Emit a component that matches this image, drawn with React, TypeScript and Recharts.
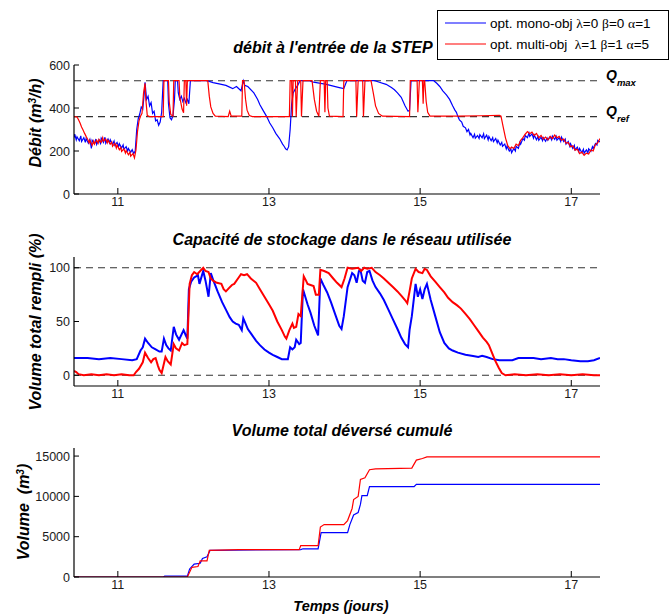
import { LineChart, Line, XAxis, YAxis, ReferenceLine } from 'recharts'

// x ticks (jours) and y ticks for each panel
const days = [11, 13, 15, 17]
const debitTicks = [0, 200, 400, 600]
const stockTicks = [0, 50, 100]
const cumulTicks = [0, 5000, 10000, 15000]
const qMax = 527
const qRef = 360

// débit à l'entrée de la STEP (m3/h) — [temps, valeur]
const debitMono: [number, number][] = [
  [10.42, 262], [10.43, 278], [10.45, 252], [10.46, 266], [10.49, 248], [10.51, 270], [10.52, 244], [10.55, 262],
  [10.57, 240], [10.58, 258], [10.61, 236], [10.63, 254], [10.65, 212], [10.66, 250], [10.69, 234], [10.71, 256],
  [10.72, 230], [10.75, 252], [10.77, 236], [10.78, 260], [10.81, 240], [10.83, 264], [10.84, 236], [10.87, 256],
  [10.89, 238], [10.9, 252], [10.93, 230], [10.95, 246], [10.96, 226], [10.99, 240], [11.01, 220], [11.02, 234],
  [11.05, 214], [11.07, 228], [11.08, 208], [11.11, 220], [11.13, 200], [11.14, 212], [11.17, 194], [11.19, 206],
  [11.21, 188], [11.23, 200], [11.25, 300], [11.27, 350], [11.29, 372], [11.31, 405], [11.33, 395], [11.35, 470],
  [11.36, 520], [11.37, 480], [11.38, 440], [11.4, 455], [11.42, 410], [11.44, 425], [11.46, 375], [11.48, 385],
  [11.5, 340], [11.52, 345], [11.54, 320], [11.56, 335], [11.58, 380], [11.6, 527], [11.66, 527], [11.67, 420],
  [11.69, 355], [11.71, 345], [11.73, 365], [11.75, 440], [11.76, 527], [11.79, 527], [11.8, 470], [11.82, 440],
  [11.84, 455], [11.86, 430], [11.88, 445], [11.9, 425], [11.92, 440], [11.94, 420], [11.96, 527], [12.18, 527],
  [12.26, 518], [12.34, 512], [12.43, 505], [12.52, 490], [12.57, 500], [12.63, 480], [12.66, 527], [12.68, 505],
  [12.72, 500], [12.8, 470], [12.85, 440], [12.88, 415], [12.92, 390], [12.97, 360], [13.01, 330], [13.05, 308],
  [13.09, 282], [13.14, 258], [13.18, 232], [13.2, 222], [13.22, 210], [13.24, 205], [13.26, 220], [13.28, 300],
  [13.3, 420], [13.32, 470], [13.35, 490], [13.38, 505], [13.41, 527], [13.53, 527], [13.59, 520], [13.76, 510],
  [13.93, 495], [13.99, 490], [14.03, 527], [14.4, 527], [14.46, 520], [14.55, 510], [14.62, 495], [14.66, 485],
  [14.7, 470], [14.75, 450], [14.8, 410], [14.84, 385], [14.86, 390], [14.88, 527], [15.18, 527], [15.22, 515],
  [15.26, 500], [15.3, 480], [15.35, 460], [15.39, 440], [15.43, 410], [15.46, 390], [15.48, 380], [15.5, 360],
  [15.52, 345], [15.55, 335], [15.57, 315], [15.6, 308], [15.62, 290], [15.64, 300], [15.66, 275], [15.67, 282],
  [15.7, 262], [15.72, 278], [15.73, 260], [15.76, 272], [15.78, 258], [15.79, 276], [15.82, 262], [15.84, 280],
  [15.85, 258], [15.88, 274], [15.9, 252], [15.91, 268], [15.94, 248], [15.96, 262], [15.97, 244], [16.0, 258],
  [16.02, 238], [16.03, 250], [16.06, 228], [16.08, 240], [16.09, 222], [16.12, 232], [16.14, 210], [16.15, 222],
  [16.18, 200], [16.2, 210], [16.21, 192], [16.24, 212], [16.26, 200], [16.27, 222], [16.3, 212], [16.32, 240],
  [16.33, 232], [16.36, 258], [16.38, 250], [16.39, 272], [16.42, 262], [16.44, 284], [16.45, 268], [16.48, 280],
  [16.5, 260], [16.51, 274], [16.54, 252], [16.56, 268], [16.57, 250], [16.6, 264], [16.62, 248], [16.63, 262],
  [16.66, 245], [16.68, 260], [16.69, 250], [16.72, 266], [16.74, 252], [16.75, 270], [16.78, 254], [16.8, 268],
  [16.81, 250], [16.84, 262], [16.86, 245], [16.87, 265], [16.9, 244], [16.92, 255], [16.93, 232], [16.96, 244],
  [16.98, 222], [16.99, 234], [17.02, 212], [17.04, 226], [17.05, 205], [17.08, 218], [17.1, 198], [17.11, 212],
  [17.14, 192], [17.16, 208], [17.17, 190], [17.2, 205], [17.22, 192], [17.23, 210], [17.26, 198], [17.28, 220],
  [17.29, 212], [17.32, 235], [17.34, 228], [17.35, 250], [17.38, 242],
]

const debitMulti: [number, number][] = [
  [10.42, 360], [10.46, 358], [10.48, 345], [10.5, 330], [10.52, 312], [10.54, 298], [10.56, 282], [10.58, 268],
  [10.6, 255], [10.62, 238], [10.63, 250], [10.66, 226], [10.68, 246], [10.69, 232], [10.72, 250], [10.74, 236],
  [10.75, 254], [10.78, 240], [10.8, 262], [10.81, 246], [10.84, 256], [10.86, 238], [10.87, 250], [10.9, 232],
  [10.92, 242], [10.93, 222], [10.96, 236], [10.98, 214], [10.99, 228], [11.02, 206], [11.04, 216], [11.05, 198],
  [11.08, 210], [11.1, 190], [11.11, 202], [11.14, 182], [11.16, 194], [11.17, 176], [11.2, 188], [11.22, 168],
  [11.24, 205], [11.26, 290], [11.28, 340], [11.3, 362], [11.32, 375], [11.34, 470], [11.36, 515], [11.37, 440],
  [11.39, 365], [11.42, 360], [11.6, 360], [11.61, 527], [11.67, 527], [11.68, 430], [11.7, 370], [11.73, 362],
  [11.74, 527], [11.81, 527], [11.82, 450], [11.85, 395], [11.87, 378], [11.88, 527], [11.9, 527], [11.91, 410],
  [11.92, 527], [12.19, 527], [12.21, 455], [12.23, 405], [12.26, 375], [12.29, 362], [12.46, 360], [12.48, 385],
  [12.5, 362], [12.64, 362], [12.65, 527], [12.67, 527], [12.69, 440], [12.71, 390], [12.74, 365], [12.78, 360],
  [13.27, 360], [13.28, 527], [13.3, 527], [13.31, 360], [13.32, 527], [13.35, 527], [13.36, 360], [13.38, 527],
  [13.42, 527], [13.43, 360], [13.45, 527], [13.57, 527], [13.6, 440], [13.63, 385], [13.66, 362], [13.68, 527],
  [13.73, 527], [13.74, 380], [13.75, 527], [13.77, 527], [13.78, 400], [13.8, 362], [13.98, 360], [13.99, 527],
  [14.15, 527], [14.16, 360], [14.18, 527], [14.24, 527], [14.25, 360], [14.27, 527], [14.35, 527], [14.38, 470],
  [14.41, 410], [14.45, 375], [14.5, 362], [14.86, 360], [14.87, 527], [14.96, 527], [14.97, 380], [14.99, 527],
  [15.03, 527], [15.04, 420], [15.05, 527], [15.06, 527], [15.08, 430], [15.1, 380], [15.13, 362], [15.5, 362],
  [15.8, 364], [16.05, 366], [16.07, 362], [16.1, 310], [16.13, 260], [16.16, 225], [16.19, 210], [16.21, 218],
  [16.24, 212], [16.27, 232], [16.3, 225], [16.33, 250], [16.36, 262], [16.39, 278], [16.42, 290], [16.45, 280],
  [16.48, 288], [16.51, 272], [16.54, 282], [16.57, 262], [16.6, 272], [16.63, 255], [16.66, 265], [16.69, 252],
  [16.72, 268], [16.75, 258], [16.78, 274], [16.81, 262], [16.84, 268], [16.87, 250], [16.9, 256], [16.93, 236],
  [16.96, 240], [16.99, 220], [17.02, 224], [17.05, 204], [17.08, 208], [17.11, 188], [17.14, 195], [17.17, 180],
  [17.2, 190], [17.23, 186], [17.26, 205], [17.29, 200], [17.32, 230], [17.35, 238], [17.38, 258],
]

// capacité de stockage utilisée (%)
const stockMono: [number, number][] = [
  [10.42, 16], [10.6, 16], [10.75, 15], [10.9, 16], [11.05, 15], [11.19, 14], [11.25, 15], [11.3, 23],
  [11.33, 26], [11.36, 34], [11.4, 30], [11.45, 26], [11.5, 24], [11.55, 22], [11.58, 22], [11.61, 34],
  [11.64, 28], [11.67, 25], [11.7, 23], [11.74, 45], [11.77, 38], [11.81, 33], [11.87, 42], [11.9, 37],
  [11.92, 34], [11.94, 80], [11.97, 87], [12.01, 91], [12.06, 93], [12.08, 85], [12.13, 97], [12.16, 88],
  [12.2, 73], [12.23, 95], [12.27, 87], [12.32, 78], [12.38, 68], [12.43, 61], [12.48, 54], [12.52, 50],
  [12.56, 48], [12.6, 47], [12.64, 42], [12.66, 53], [12.69, 48], [12.72, 43], [12.77, 38], [12.83, 32],
  [12.88, 28], [12.94, 24], [13.0, 21], [13.05, 19], [13.11, 17], [13.17, 15], [13.25, 15], [13.28, 26],
  [13.31, 24], [13.34, 26], [13.36, 33], [13.4, 29], [13.42, 30], [13.45, 80], [13.48, 73], [13.51, 66],
  [13.55, 58], [13.6, 46], [13.65, 37], [13.68, 90], [13.72, 84], [13.77, 77], [13.82, 68], [13.88, 56],
  [13.93, 46], [13.96, 43], [13.99, 55], [14.04, 82], [14.1, 95], [14.13, 93], [14.16, 86], [14.19, 97],
  [14.21, 98], [14.24, 88], [14.27, 86], [14.3, 96], [14.33, 97], [14.37, 88], [14.41, 82], [14.47, 76],
  [14.52, 70], [14.58, 61], [14.64, 52], [14.7, 43], [14.75, 35], [14.8, 29], [14.84, 26], [14.86, 42],
  [14.89, 55], [14.94, 85], [14.97, 73], [15.0, 80], [15.03, 71], [15.06, 80], [15.09, 85], [15.14, 70],
  [15.2, 55], [15.26, 40], [15.32, 30], [15.38, 25], [15.43, 23], [15.5, 21], [15.6, 19], [15.7, 18],
  [15.77, 17], [15.82, 18], [15.88, 17], [15.96, 15], [16.05, 14], [16.15, 14], [16.22, 14], [16.3, 16],
  [16.39, 16], [16.5, 16], [16.6, 15], [16.73, 16], [16.82, 15], [16.9, 15], [17.0, 14], [17.12, 13],
  [17.22, 13], [17.3, 14], [17.38, 16],
]

const stockMulti: [number, number][] = [
  [10.42, 4], [10.45, 3], [10.48, 1], [10.55, 0], [10.65, 1], [10.75, 0], [10.85, 1], [10.95, 0],
  [11.05, 1], [11.15, 0], [11.21, 0], [11.24, 3], [11.28, 6], [11.33, 12], [11.36, 21], [11.4, 16],
  [11.44, 12], [11.47, 15], [11.5, 16], [11.53, 9], [11.55, 5], [11.58, 2], [11.6, 8], [11.63, 17],
  [11.66, 13], [11.7, 10], [11.74, 29], [11.77, 25], [11.81, 23], [11.85, 30], [11.88, 28], [11.92, 29],
  [11.95, 85], [11.98, 93], [12.01, 96], [12.05, 94], [12.09, 97], [12.13, 100], [12.16, 97], [12.2, 96],
  [12.23, 90], [12.26, 88], [12.31, 86], [12.37, 85], [12.4, 80], [12.43, 78], [12.47, 81], [12.51, 84],
  [12.54, 85], [12.59, 90], [12.63, 94], [12.67, 93], [12.71, 94], [12.76, 90], [12.83, 86], [12.88, 80],
  [12.94, 73], [13.0, 66], [13.05, 60], [13.11, 50], [13.17, 42], [13.21, 36], [13.23, 34], [13.27, 42],
  [13.31, 48], [13.33, 44], [13.36, 45], [13.39, 57], [13.42, 55], [13.46, 92], [13.49, 88], [13.51, 85],
  [13.55, 84], [13.59, 83], [13.62, 75], [13.66, 75], [13.68, 98], [13.73, 97], [13.79, 95], [13.85, 90],
  [13.9, 86], [13.96, 82], [14.0, 90], [14.04, 100], [14.1, 99], [14.18, 100], [14.22, 97], [14.26, 100],
  [14.3, 99], [14.36, 100], [14.41, 96], [14.47, 93], [14.52, 90], [14.58, 86], [14.64, 82], [14.7, 78],
  [14.75, 74], [14.8, 70], [14.83, 67], [14.86, 78], [14.89, 90], [14.94, 99], [14.98, 96], [15.03, 95],
  [15.06, 99], [15.09, 98], [15.14, 92], [15.2, 87], [15.26, 82], [15.32, 77], [15.37, 72], [15.43, 68],
  [15.49, 65], [15.54, 62], [15.6, 57], [15.66, 52], [15.71, 47], [15.77, 41], [15.83, 35], [15.88, 31],
  [15.91, 28], [15.95, 21], [15.99, 14], [16.04, 7], [16.08, 2], [16.13, 0], [16.25, 1], [16.4, 0],
  [16.55, 1], [16.7, 0], [16.85, 1], [17.0, 0], [17.15, 1], [17.3, 0], [17.38, 0],
]

// volume total déversé cumulé (m3)
const cumulMono: [number, number][] = [
  [10.42, 0], [11.6, 0], [11.62, 100], [11.92, 100], [11.95, 1000], [12.01, 1600], [12.09, 1700],
  [12.12, 2300], [12.18, 2500], [12.22, 3300], [13.42, 3400], [13.45, 3500], [13.65, 3500], [13.69, 5500],
  [14.04, 5500], [14.07, 6500], [14.12, 7700], [14.18, 8000], [14.21, 9000], [14.23, 10100], [14.3, 10100],
  [14.33, 11200], [14.92, 11200], [14.95, 11500], [17.38, 11500],
]

const cumulMulti: [number, number][] = [
  [10.42, 0], [11.92, 0], [11.98, 1200], [12.06, 1300], [12.09, 2000], [12.18, 2000], [12.21, 3300],
  [12.6, 3400], [13.4, 3400], [13.42, 3900], [13.65, 3900], [13.68, 6200], [13.73, 6500], [13.99, 6500],
  [14.04, 7000], [14.1, 8500], [14.12, 9600], [14.18, 10000], [14.21, 12100], [14.27, 12300], [14.33, 13300],
  [14.41, 13400], [14.89, 13500], [14.95, 14500], [15.03, 14700], [15.09, 14900], [17.38, 14900],
]

const toPts = (arr: [number, number][]) => arr.map(([t, v]) => ({ t, v }))

const tDomain: [number, number] = [10.42, 17.38]
const sans = "'Liberation Sans', Arial, Helvetica, sans-serif"
const serif = "'Liberation Serif', 'Times New Roman', serif"
const BLUE = '#0000ff'
const RED = '#ff0000'

function LeftTick(props: any) {
  const { x, y, payload } = props
  return (
    <g>
      <line x1={x} x2={x + 5} y1={y} y2={y} stroke="#000" />
      <text x={x - 4} y={y + 4.5} textAnchor="end" fontSize={12.5} fill="#1a1a1a" fontFamily={sans}>
        {payload.value}
      </text>
    </g>
  )
}

function BottomTick(props: any) {
  const { x, y, payload } = props
  return (
    <g>
      <line x1={x} x2={x} y1={y} y2={y - 6} stroke="#000" />
      <text x={x} y={y + 12} textAnchor="middle" fontSize={12.5} fill="#1a1a1a" fontFamily={sans}>
        {payload.value}
      </text>
    </g>
  )
}

function TopTick(props: any) {
  const { x, y } = props
  return <line x1={x} x2={x} y1={y} y2={y + 6} stroke="#000" />
}

function RightTick(props: any) {
  const { x, y } = props
  return <line x1={x} x2={x - 5} y1={y} y2={y} stroke="#000" />
}

const dashStyle = { stroke: '#333', strokeWidth: 1.1, strokeDasharray: '7 5' }

function Panel({
  top,
  height,
  marginTop,
  yDomain,
  yTicks,
  mono,
  multi,
  refs,
  width,
  boxed,
}: {
  top: number
  height: number
  marginTop: number
  yDomain: [number, number]
  yTicks: number[]
  mono: [number, number][]
  multi: [number, number][]
  refs: number[]
  width: number
  boxed?: boolean
}) {
  return (
    <div style={{ position: 'absolute', left: 0, top }}>
      <LineChart width={670} height={height} margin={{ top: marginTop, right: 70, bottom: 0, left: 34 }}>
        <XAxis
          dataKey="t"
          type="number"
          domain={tDomain}
          ticks={days}
          interval={0}
          allowDataOverflow
          height={21}
          tickSize={0}
          tickMargin={0}
          tick={<BottomTick />}
          axisLine={{ stroke: '#000', strokeWidth: 1.2 }}
        />
        <YAxis
          type="number"
          domain={yDomain}
          ticks={yTicks}
          interval={0}
          allowDataOverflow
          width={40}
          tickSize={0}
          tickMargin={0}
          tick={<LeftTick />}
          axisLine={{ stroke: '#000', strokeWidth: 1.2 }}
        />
        {boxed && (
          <XAxis
            xAxisId="top"
            orientation="top"
            type="number"
            domain={tDomain}
            ticks={days}
            interval={0}
            height={0}
            tickSize={0}
            tickMargin={0}
            tick={<TopTick />}
            axisLine={{ stroke: '#000', strokeWidth: 1.2 }}
          />
        )}
        {boxed && (
          <YAxis
            yAxisId="right"
            orientation="right"
            type="number"
            domain={yDomain}
            ticks={yTicks}
            interval={0}
            width={0}
            tickSize={0}
            tickMargin={0}
            tick={<RightTick />}
            axisLine={{ stroke: '#000', strokeWidth: 1.2 }}
          />
        )}
        {refs.map(r => (
          <ReferenceLine key={r} y={r} {...dashStyle} />
        ))}
        <Line
          data={toPts(mono)}
          dataKey="v"
          type="linear"
          stroke={BLUE}
          strokeWidth={width}
          dot={false}
          isAnimationActive={false}
        />
        <Line
          data={toPts(multi)}
          dataKey="v"
          type="linear"
          stroke={RED}
          strokeWidth={width}
          dot={false}
          isAnimationActive={false}
        />
      </LineChart>
    </div>
  )
}

const titleStyle = {
  fontFamily: sans,
  fontWeight: 700,
  fontStyle: 'italic' as const,
  fontSize: 16,
  fill: '#000',
}

export default function App() {
  return (
    <div style={{ position: 'absolute', left: 0, top: 0, width: 670, height: 614, background: '#fff' }}>
      <Panel
        top={0}
        height={215}
        marginTop={65}
        yDomain={[0, 600]}
        yTicks={debitTicks}
        mono={debitMono}
        multi={debitMulti}
        refs={[qMax, qRef]}
        width={1.2}
      />
      <Panel
        top={200}
        height={207}
        marginTop={57}
        yDomain={[-10, 110]}
        yTicks={stockTicks}
        mono={stockMono}
        multi={stockMulti}
        refs={[0, 100]}
        width={2}
      />
      <Panel
        top={400}
        height={198}
        marginTop={48}
        yDomain={[0, 16000]}
        yTicks={cumulTicks}
        mono={cumulMono}
        multi={cumulMulti}
        refs={[]}
        width={1.2}
        boxed
      />
      <svg width={670} height={614} style={{ position: 'absolute', left: 0, top: 0, pointerEvents: 'none' }}>
        <text x={333} y={53} textAnchor="middle" {...titleStyle}>
          débit à l'entrée de la STEP
        </text>
        <text x={342} y={245} textAnchor="middle" {...titleStyle}>
          Capacité de stockage dans le réseau utilisée
        </text>
        <text x={342} y={436} textAnchor="middle" {...titleStyle}>
          Volume total déversé cumulé
        </text>
        <text x={341} y={611} textAnchor="middle" {...titleStyle} fontSize={14.5}>
          Temps (jours)
        </text>

        <text transform="translate(41,123) rotate(-90)" textAnchor="middle" {...titleStyle}>
          Débit (m<tspan dy={-5} fontSize={10}>3</tspan>
          <tspan dy={5}>/h)</tspan>
        </text>
        <text transform="translate(41,322) rotate(-90)" textAnchor="middle" {...titleStyle}>
          Volume total rempli (%)
        </text>
        <text
          transform="translate(29,512) rotate(-90)"
          textAnchor="middle"
          {...titleStyle}
          style={{ whiteSpace: 'pre' }}
        >
          {'Volume  (m'}
          <tspan dy={-5} fontSize={10}>3</tspan>
          <tspan dy={5}>)</tspan>
        </text>

        <text x={606} y={80} {...titleStyle} fontSize={14}>
          Q<tspan dy={6} fontSize={9.5}>max</tspan>
        </text>
        <text x={606} y={116} {...titleStyle} fontSize={14}>
          Q<tspan dy={6} fontSize={9.5}>ref</tspan>
        </text>

        <rect x={437.5} y={10.5} width={231} height={49} fill="#fff" stroke="#000" strokeWidth={1} />
        <line x1={445} x2={486} y1={23} y2={23} stroke={BLUE} strokeWidth={1.2} />
        <line x1={445} x2={486} y1={44} y2={44} stroke={RED} strokeWidth={1.2} />
        <text x={490} y={27.5} fontSize={13.5} fontFamily={sans} fill="#000" style={{ whiteSpace: 'pre' }}>
          {'opt. mono-obj '}
          <tspan fontFamily={serif}>λ</tspan>=0 <tspan fontFamily={serif}>β</tspan>=0{' '}
          <tspan fontFamily={serif}>α</tspan>=1
        </text>
        <text x={490} y={48.5} fontSize={13.5} fontFamily={sans} fill="#000" style={{ whiteSpace: 'pre' }}>
          {'opt. multi-obj  '}
          <tspan fontFamily={serif}>λ</tspan>=1 <tspan fontFamily={serif}>β</tspan>=1{' '}
          <tspan fontFamily={serif}>α</tspan>=5
        </text>
      </svg>
    </div>
  )
}
